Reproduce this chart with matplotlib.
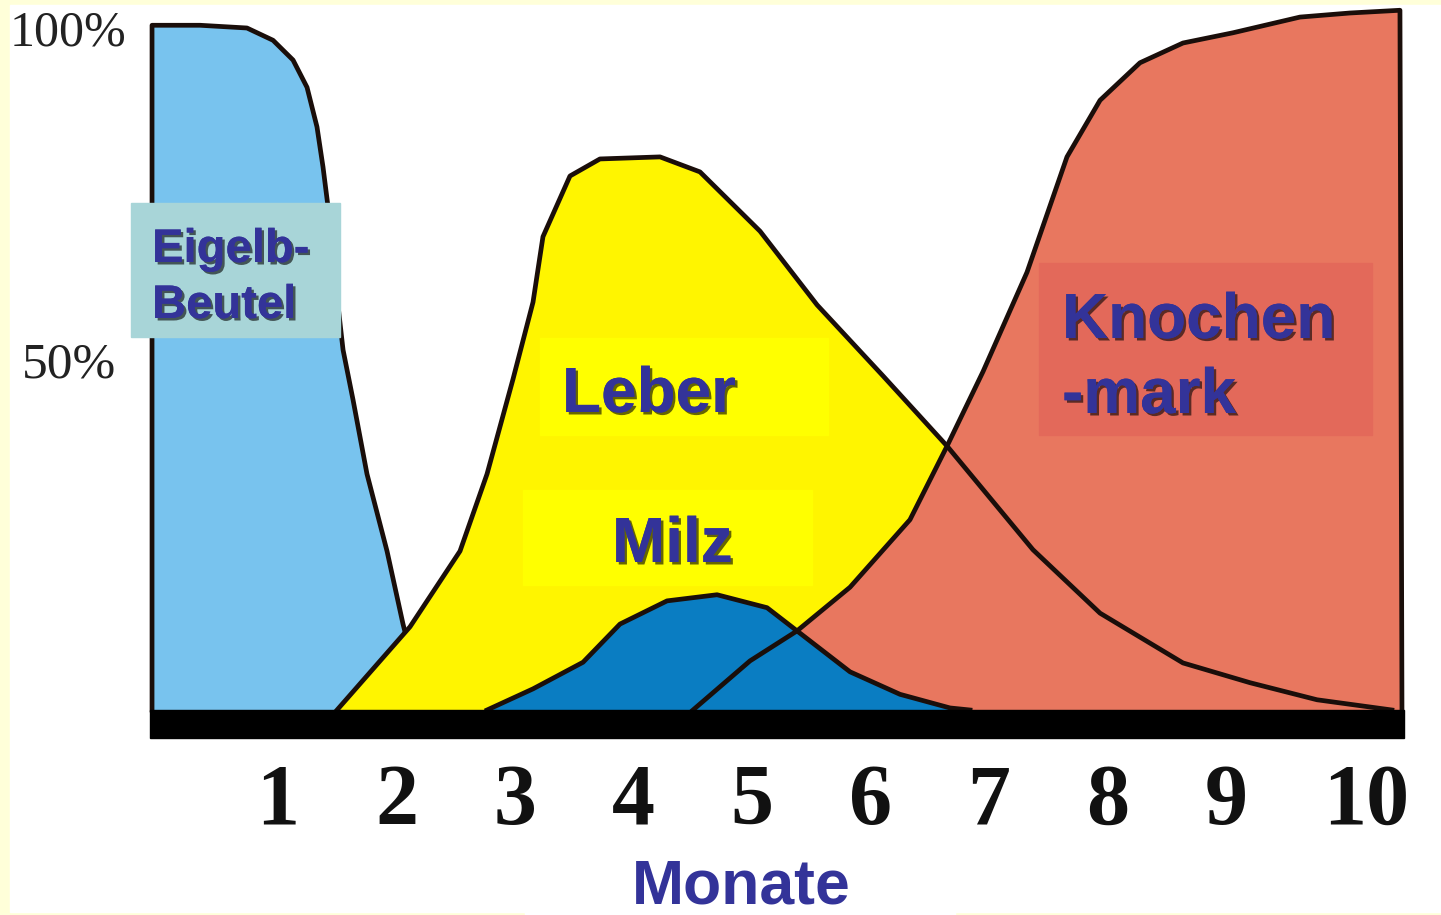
import matplotlib
matplotlib.use("Agg")
import matplotlib.pyplot as plt
from matplotlib.patches import Rectangle
import matplotlib.patheffects as pe

# Anteil der Blutbildung (%) je Organ ueber die Monate
eigelb_x = [-0.063, -0.063, 0.342, 0.738, 0.958, 1.127, 1.245, 1.329, 1.380, 1.422,
            1.473, 1.549, 1.633, 1.751, 1.920, 2.055, 2.198, 2.283]
eigelb_y = [0, 100.4, 100.4, 100.0, 98.2, 95.3, 91.3, 85.5, 79.6, 73.8,
            64.5, 52.8, 45.5, 34.6, 23.3, 12.6, 2.9, 0]

leber_x = [1.498, 2.114, 2.536, 2.764, 2.983, 3.152, 3.236, 3.464, 3.717, 4.224,
           4.561, 5.068, 5.549, 6.105, 6.646, 7.371, 7.937, 8.637, 9.203, 9.768, 10.40]
leber_y = [0, 12.2, 23.3, 34.6, 48.5, 59.8, 69.4, 78.3, 80.8, 81.1,
           78.9, 70.2, 59.4, 49.0, 38.7, 23.5, 14.2, 6.9, 4.0, 1.5, 0]

milz_x = [2.764, 3.152, 3.574, 3.886, 4.283, 4.705, 5.127, 5.380, 5.827, 6.249, 6.671, 6.84]
milz_y = [0, 3.1, 7.0, 12.6, 16.0, 16.9, 15.0, 11.6, 5.6, 2.3, 0.3, 0]

knochen_x = [4.502, 4.983, 5.380, 5.827, 6.333, 6.646, 6.949, 7.321, 7.658, 7.937,
             8.274, 8.637, 9.059, 9.624, 10.046, 10.468, 10.485]
knochen_y = [0, 7.2, 11.6, 18.0, 27.9, 38.7, 49.6, 64.2, 81.1, 89.4,
             94.9, 97.8, 99.3, 101.6, 102.2, 102.6, 0]

months = [1, 2, 3, 4, 5, 6, 7, 8, 9, 10]
month_labels = [str(m) for m in months]
pct_labels = ["100%", "50%"]

W, H = 1441, 915


# pixel position of the picture -> data units (layout only)
def dx(px):
    return 1 + (px - 278) / 118.5


def dy(py):
    return (710 - py) / 6.82


fig = plt.figure(figsize=(W / 100, H / 100), dpi=100, facecolor="#FFFFD9")
ax = fig.add_axes([0, 0, 1, 1])
ax.set_xlim(dx(0), dx(W))
ax.set_ylim(dy(H), dy(0))
ax.axis("off")
ax.patch.set_alpha(0)

# white picture area
ax.add_patch(Rectangle((10 / W, 1 - 912 / H), (W - 10) / W, 907 / H,
                       transform=ax.transAxes, color="white", zorder=0))
ax.add_patch(Rectangle((525 / W, 0), 430 / W, 0.01,
                       transform=ax.transAxes, color="white", zorder=0))

edge = "#1a0e0a"
lw = 3.4

ax.fill(eigelb_x, eigelb_y, color="#78C3EE", zorder=1)
ax.plot(eigelb_x, eigelb_y, color=edge, lw=lw, zorder=2, solid_joinstyle="round")
ax.fill(leber_x, leber_y, color="#FFF500", zorder=3)
ax.fill(knochen_x, knochen_y, color="#E8775F", zorder=4)
ax.fill(milz_x, milz_y, color="#0A7DC2", zorder=5)
ax.plot(milz_x, milz_y, color=edge, lw=lw, zorder=6, solid_joinstyle="round")
ax.plot(knochen_x, knochen_y, color=edge, lw=lw, zorder=7, solid_joinstyle="round")
ax.plot(leber_x, leber_y, color=edge, lw=lw, zorder=8, solid_joinstyle="round")

# thick base bar
ax.add_patch(Rectangle((dx(150), dy(738)), dx(1404) - dx(150), dy(710) - dy(738),
                       color="black", zorder=9))

# month labels
for m, lab in zip(months, month_labels):
    xpos = m if m < 10 else m + 0.18
    ax.text(xpos, dy(824), lab, ha="center", va="baseline", fontsize=62,
            family="Liberation Serif", fontweight="bold", color="#111111", zorder=10)

# percent labels
ax.text(dx(10), dy(46), pct_labels[0], ha="left", va="baseline", fontsize=36,
        family="Liberation Serif", color="#222222", zorder=10)
ax.text(dx(22), dy(378), pct_labels[1], ha="left", va="baseline", fontsize=37,
        family="Liberation Serif", color="#222222", zorder=10)

# label boxes
boxes = [((131, 203, 340, 337), "#A8D5D8"),
         ((540, 338, 828, 435), "#FFFF00"),
         ((523, 490, 812, 585), "#FFFF00"),
         ((1039, 263, 1372, 435), "#E3695A")]
for (x1, y1, x2, y2), c in boxes:
    ax.add_patch(Rectangle((dx(x1), dy(y2)), dx(x2) - dx(x1), dy(y1) - dy(y2),
                           color=c, zorder=10))

shadow = [pe.withSimplePatchShadow(offset=(1.8, -1.8), shadow_rgbFace="black", alpha=0.6),
          pe.Normal()]
labels = [("Eigelb-", 152, 262, 34), ("Beutel", 152, 318, 34),
          ("Leber", 562, 412, 46), ("Milz", 612, 562, 46),
          ("Knochen", 1062, 338, 46), ("-mark", 1062, 413, 46)]
for txt, px, py, fs in labels:
    ax.text(dx(px), dy(py), txt, ha="left", va="baseline", fontsize=fs,
            family="Liberation Sans", fontweight="bold", color="#333399",
            path_effects=shadow, zorder=11)

ax.text(dx(632), dy(904), "Monate", ha="left", va="baseline", fontsize=45,
        family="Liberation Sans", fontweight="bold", color="#333399", zorder=11)

fig.savefig("out.png", dpi=100, facecolor=fig.get_facecolor())
